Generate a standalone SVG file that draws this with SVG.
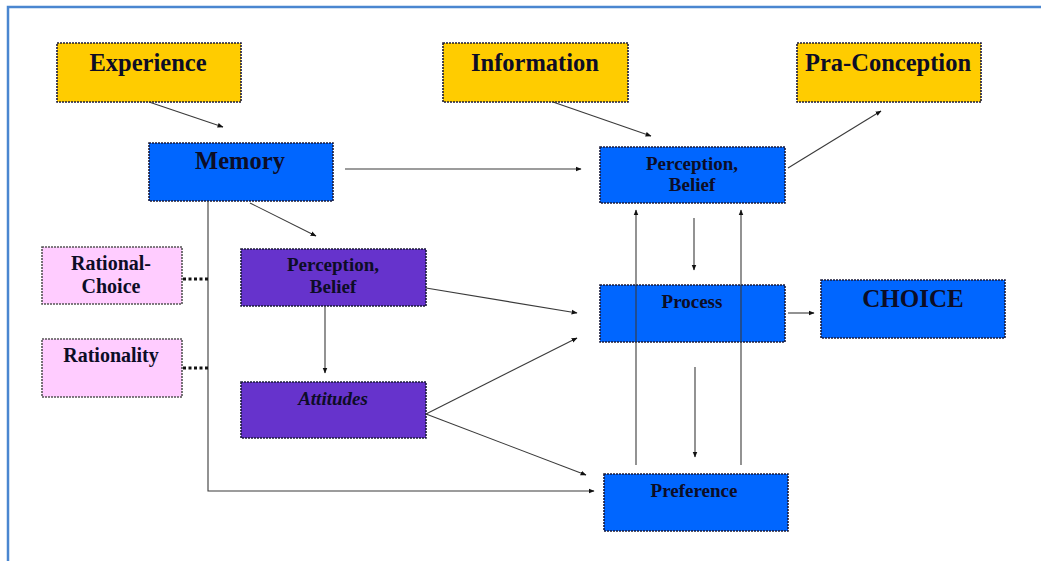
<svg xmlns="http://www.w3.org/2000/svg" width="1041" height="561" viewBox="0 0 1041 561">
  <style>
    .box { stroke: #1b1b3a; stroke-width: 1.6; stroke-dasharray: 2 1; }
    .gold { fill: #FFCC00; }
    .blue { fill: #0066FF; }
    .violet { fill: #6633CC; }
    .pink { fill: #FFCCFF; stroke: #555; }
    .t { font-family: "Liberation Serif", "Times New Roman", serif; font-weight: bold; fill: #0d0d26; text-anchor: middle; }
    .big { font-size: 24.5px; }
    .mid { font-size: 19px; }
    .sm { font-size: 20px; }
    .edge { stroke: #3a3a3a; stroke-width: 1.1; fill: none; }
    .dot { stroke: #111; stroke-width: 3; stroke-dasharray: 3 2.5; fill: none; }
  </style>
  <defs>
    <marker id="arrow" viewBox="0 0 10 10" refX="9" refY="5" markerWidth="6" markerHeight="6" orient="auto" markerUnits="userSpaceOnUse">
      <path d="M0,1 L10,5 L0,9 z" fill="#111"/>
    </marker>
  </defs>

  <rect width="1041" height="561" fill="#ffffff"/>
  <!-- frame -->
  <path d="M8,565 L8,7 L1045,7" fill="none" stroke="#4a86d0" stroke-width="2.5"/>

  <g id="experience">
    <rect class="box gold" x="57" y="43" width="184" height="59"/>
    <text class="t big" x="148" y="71">Experience</text>
  </g>
  <g id="information">
    <rect class="box gold" x="443" y="43" width="185" height="59"/>
    <text class="t big" x="535" y="71">Information</text>
  </g>
  <g id="pra-conception">
    <rect class="box gold" x="797" y="43" width="184" height="59"/>
    <text class="t big" x="888" y="71">Pra-Conception</text>
  </g>
  <g id="memory">
    <rect class="box blue" x="149" y="143" width="184" height="58"/>
    <text class="t big" x="240" y="169">Memory</text>
  </g>
  <g id="perception-belief-top">
    <rect class="box blue" x="600" y="147" width="185" height="56"/>
    <text class="t mid" x="692" y="170">Perception,</text>
    <text class="t mid" x="692" y="191">Belief</text>
  </g>
  <g id="rational-choice">
    <rect class="box pink" x="42" y="247" width="140" height="57"/>
    <text class="t sm" x="111" y="270">Rational-</text>
    <text class="t sm" x="111" y="293">Choice</text>
  </g>
  <g id="rationality">
    <rect class="box pink" x="42" y="339" width="140" height="58"/>
    <text class="t sm" x="111" y="362">Rationality</text>
  </g>
  <g id="perception-belief-left">
    <rect class="box violet" x="241" y="249" width="185" height="57"/>
    <text class="t mid" x="333" y="271">Perception,</text>
    <text class="t mid" x="333" y="293">Belief</text>
  </g>
  <g id="attitudes">
    <rect class="box violet" x="241" y="382" width="185" height="56"/>
    <text class="t mid" x="333" y="405" font-style="italic">Attitudes</text>
  </g>
  <g id="process">
    <rect class="box blue" x="600" y="285" width="185" height="57"/>
    <text class="t mid" x="692" y="308">Process</text>
  </g>
  <g id="choice">
    <rect class="box blue" x="821" y="280" width="184" height="58"/>
    <text class="t" x="913" y="307" font-size="25px">CHOICE</text>
  </g>
  <g id="preference">
    <rect class="box blue" x="604" y="474" width="184" height="57"/>
    <text class="t mid" x="694" y="497">Preference</text>
  </g>

  <g id="connectors">
    <line class="edge" x1="149" y1="102" x2="223" y2="127" marker-end="url(#arrow)"/>
    <line class="edge" x1="553" y1="102" x2="651" y2="136" marker-end="url(#arrow)"/>
    <line class="edge" x1="345" y1="169" x2="581" y2="169" marker-end="url(#arrow)"/>
    <line class="edge" x1="788" y1="168" x2="881" y2="111" marker-end="url(#arrow)"/>
    <line class="edge" x1="250" y1="203" x2="316" y2="236" marker-end="url(#arrow)"/>
    <line class="edge" x1="694" y1="218" x2="694" y2="270" marker-end="url(#arrow)"/>
    <line class="edge" x1="325" y1="306" x2="325" y2="373" marker-end="url(#arrow)"/>
    <line class="edge" x1="426" y1="288" x2="577" y2="313" marker-end="url(#arrow)"/>
    <line class="edge" x1="426" y1="414" x2="577" y2="338" marker-end="url(#arrow)"/>
    <line class="edge" x1="426" y1="414" x2="586" y2="475" marker-end="url(#arrow)"/>
    <line class="edge" x1="788" y1="313" x2="814" y2="313" marker-end="url(#arrow)"/>
    <line class="edge" x1="695" y1="367" x2="695" y2="457" marker-end="url(#arrow)"/>
    <line class="edge" x1="636" y1="465" x2="636" y2="210" marker-end="url(#arrow)"/>
    <line class="edge" x1="741" y1="465" x2="741" y2="210" marker-end="url(#arrow)"/>
    <polyline class="edge" points="208,201 208,491 594,491" marker-end="url(#arrow)"/>
    <line class="dot" x1="183" y1="279" x2="208" y2="279"/>
    <line class="dot" x1="183" y1="368" x2="208" y2="368"/>
  </g>
</svg>
